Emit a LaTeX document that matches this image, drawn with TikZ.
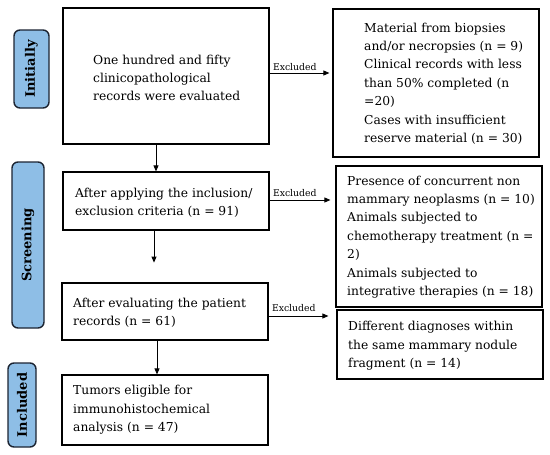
\documentclass[tikz,border=0pt]{standalone}
\usepackage{fontspec}
\setmainfont{DejaVu Serif}
\usetikzlibrary{arrows.meta}
\definecolor{sidefill}{RGB}{142,190,230}
\definecolor{sideline}{RGB}{28,36,50}
\tikzset{
  frame/.style={draw, line width=1.2pt, inner sep=0pt},
  boxtext/.style={align=left, inner sep=0pt, anchor=west,
    font=\fontsize{12.3}{18.4}\selectfont},
  sidelabel/.style={draw=sideline, fill=sidefill, line width=1.4pt, rounded corners=6pt,
    rotate=90, font=\fontsize{13}{15}\selectfont\bfseries, inner sep=0pt},
  arr/.style={line width=0.8pt, -{Triangle[length=6pt,width=5pt]}},
  exlabel/.style={font=\fontsize{9.3}{11}\selectfont, inner sep=1pt, anchor=south west}
}
\begin{document}
\begin{tikzpicture}[x=1pt,y=-1pt]
\useasboundingbox (0,0) rectangle (550,455);
% side labels
\node[sidelabel, minimum width=78pt, minimum height=35pt] (lInit) at (31.5,69) {Initially};
\node[sidelabel, minimum width=166pt, minimum height=32pt] (lScr) at (28,245) {Screening};
\node[sidelabel, minimum width=84pt, minimum height=28pt] (lInc) at (22,405) {Included};
% left column frames
\node[frame, minimum width=206pt, minimum height=136pt] (b1) at (166,76) {};
\node[frame, minimum width=206pt, minimum height=58pt] (b2) at (166,201) {};
\node[frame, minimum width=206pt, minimum height=57pt] (b3) at (165,311.5) {};
\node[frame, minimum width=206pt, minimum height=70pt] (b4) at (165,410) {};
% right column frames
\node[frame, minimum width=206pt, minimum height=148pt] (r1) at (436,83) {};
\node[frame, minimum width=206pt, minimum height=141pt] (r2) at (439,236.5) {};
\node[frame, minimum width=206pt, minimum height=69pt] (r3) at (440,344.5) {};
% texts
\node[boxtext] (t1) at (93,78) {One hundred and fifty\\clinicopathological\\records were evaluated};
\node[boxtext] (t2) at (75,202.5) {After applying the inclusion/\\exclusion criteria (n = 91)};
\node[boxtext] (t3) at (73,313) {After evaluating the patient\\records (n = 61)};
\node[boxtext] (t4) at (73,410) {Tumors eligible for\\immunohistochemical\\analysis (n = 47)};
\node[boxtext] (s1) at (364,83.5) {Material from biopsies\\and/or necropsies (n = 9)\\Clinical records with less\\than 50\% completed (n\\=20)\\Cases with insufficient\\reserve material (n = 30)};
\node[boxtext] (s2) at (347,237) {Presence of concurrent non\\mammary neoplasms (n = 10)\\Animals subjected to\\chemotherapy treatment (n =\\2)\\Animals subjected to\\integrative therapies (n = 18)};
\node[boxtext] (s3) at (348,346) {Different diagnoses within\\the same mammary nodule\\fragment (n = 14)};
% vertical arrows
\draw[arr] ([xshift=-10pt]b1.south) -- ([xshift=-10pt]b2.north);
\draw[arr] ([xshift=-12pt]b2.south) -- ++(0,32);
\draw[arr] ([xshift=-8pt]b3.south) -- ([xshift=-8pt]b4.north);
% horizontal arrows
\draw[arr, shorten >=3pt] ([yshift=3pt]b1.east) -- ([yshift=3pt]b1.east -| r1.west)
  node[exlabel, pos=0, xshift=2pt, yshift=1pt] {Excluded};
\draw[arr, shorten >=5pt] ([yshift=1pt]b2.east) -- ([yshift=1pt]b2.east -| r2.west)
  node[exlabel, pos=0, xshift=2pt, yshift=2pt] {Excluded};
\draw[arr, shorten >=8pt] ([yshift=-4.5pt]b3.east) -- ([yshift=-4.5pt]b3.east -| r3.west)
  node[exlabel, pos=0, xshift=2pt, yshift=3pt] {Excluded};
\end{tikzpicture}
\end{document}
